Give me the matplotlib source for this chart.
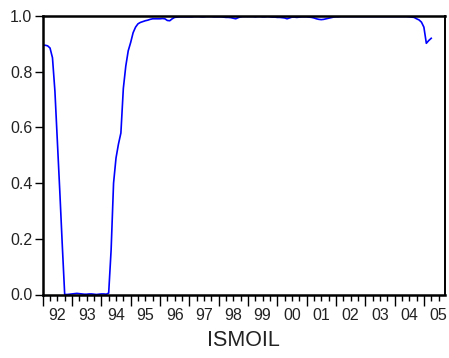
import numpy as np
import matplotlib
matplotlib.use("Agg")
import matplotlib.pyplot as plt

plt.rcParams['font.family'] = ['Liberation Sans', 'DejaVu Sans']

start_year = 1992
year_labels = ["92", "93", "94", "95", "96", "97", "98", "99", "00", "01", "02", "03", "04", "05"]
y_ticks = [0.0, 0.2, 0.4, 0.6, 0.8, 1.0]
y_tick_labels = ["0.0", "0.2", "0.4", "0.6", "0.8", "1.0"]
series_name = "ISMOIL"

v1992 = [0.895, 0.895, 0.893, 0.885, 0.85, 0.73, 0.55, 0.37, 0.18, 0.0, 0.0, 0.001]
v1993 = [0.002, 0.003, 0.004, 0.003, 0.002, 0.001, 0.001, 0.002, 0.002, 0.001, 0.0, 0.001]
v1994 = [0.002, 0.002, 0.001, 0.005, 0.16, 0.40, 0.49, 0.54, 0.58, 0.74, 0.82, 0.875]
v1995 = [0.905, 0.94, 0.96, 0.972, 0.977, 0.980, 0.983, 0.985, 0.988, 0.99, 0.99, 0.99]
v1996 = [0.99, 0.991, 0.99, 0.984, 0.983, 0.99, 0.995, 0.996, 0.997, 0.997, 0.997, 0.997]
v1997 = [0.997, 0.997, 0.998, 0.998, 0.998, 0.997, 0.997, 0.998, 0.998, 0.998, 0.997, 0.997]
v1998 = [0.997, 0.997, 0.996, 0.995, 0.995, 0.994, 0.992, 0.99, 0.994, 0.997, 0.998, 0.998]
v1999 = [0.998, 0.998, 0.998, 0.997, 0.998, 0.998, 0.997, 0.997, 0.998, 0.997, 0.996, 0.996]
v2000 = [0.995, 0.995, 0.994, 0.993, 0.99, 0.993, 0.996, 0.996, 0.995, 0.996, 0.997, 0.997]
v2001 = [0.997, 0.996, 0.995, 0.993, 0.99, 0.988, 0.987, 0.988, 0.99, 0.992, 0.994, 0.996]
v2002 = [0.997, 0.997, 0.998, 0.998, 0.998, 0.998, 0.998, 0.998, 0.998, 0.998, 0.998, 0.998]
v2003 = [0.998, 0.998, 0.998, 0.998, 0.998, 0.998, 0.998, 0.998, 0.998, 0.998, 0.998, 0.998]
v2004 = [0.998, 0.998, 0.998, 0.998, 0.998, 0.998, 0.997, 0.996, 0.995, 0.99, 0.986, 0.978]
v2005 = [0.96, 0.902, 0.912, 0.92]

values = (v1992 + v1993 + v1994 + v1995 + v1996 + v1997 + v1998 + v1999 +
          v2000 + v2001 + v2002 + v2003 + v2004 + v2005)
t = start_year + np.arange(len(values)) / 12.0

fig = plt.figure(figsize=(4.49, 3.58), dpi=100)
ax = fig.add_axes([42.7 / 449, (358 - 294.5) / 358, (445 - 42.7) / 449, (294.5 - 16) / 358])
ax.plot(t, values, color=(0, 0, 1), lw=1.2)

ax.set_xlim(1992.0, 2005.72)
ax.set_ylim(0.0, 1.0)

years = np.arange(start_year, start_year + len(year_labels))
ax.set_xticks(years)
ax.set_xticklabels([])
quarters = [y + q for y in years for q in (0.25, 0.5, 0.75)]
quarters = [q for q in quarters if q < 2005.72]
ax.set_xticks(quarters, minor=True)
ax.tick_params(axis='x', which='major', direction='out', length=8, width=1.0, color='black')
ax.tick_params(axis='x', which='minor', direction='out', length=4.5, width=1.0, color='black')

sec = ax.secondary_xaxis('bottom')
sec.set_xticks(years + 0.5)
sec.set_xticklabels(year_labels, fontsize=11.5, color='#222222')
sec.tick_params(length=0, pad=10)
for s in sec.spines.values():
    s.set_visible(False)

ax.set_yticks(y_ticks)
ax.set_yticklabels(y_tick_labels, fontsize=11.5, color='#222222')
ax.tick_params(axis='y', direction='out', length=6, width=1.0, pad=1.5)

for side in ['left', 'bottom', 'top']:
    ax.spines[side].set_linewidth(1.8)
ax.spines['right'].set_linewidth(1.4)

fig.text((42.7 + 445) / 2 / 449, (358 - 340) / 358, series_name, fontsize=15.5,
         ha='center', va='center', color='#222222')

fig.savefig("out.png", dpi=100)
